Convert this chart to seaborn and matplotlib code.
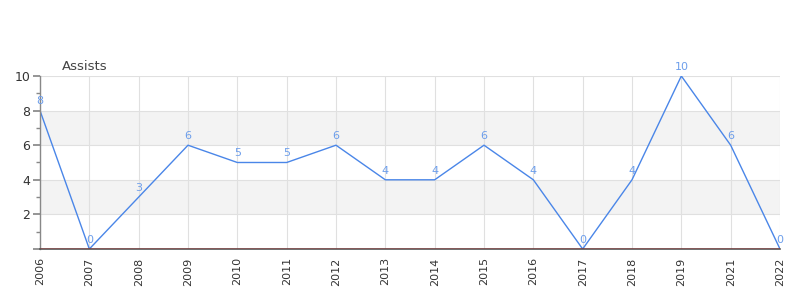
import matplotlib
matplotlib.use("Agg")
import matplotlib.pyplot as plt
import seaborn as sns
import pandas as pd
from matplotlib.ticker import FixedLocator

years = ["2006", "2007", "2008", "2009", "2010", "2011", "2012", "2013",
         "2014", "2015", "2016", "2017", "2018", "2019", "2021", "2022"]
assists = [8, 0, 3, 6, 5, 5, 6, 4, 4, 6, 4, 0, 4, 10, 6, 0]

df = pd.DataFrame({"year": years, "assists": assists})

sns.set_theme(style="white")
plt.rcParams['font.family'] = ['DejaVu Sans']

fig = plt.figure(figsize=(8, 3), dpi=100)
ax = fig.add_axes([0.05, 0.17, 0.925, 0.5767])

line_color = "#4a86e8"
sns.lineplot(data=df, x="year", y="assists", ax=ax, color=line_color, linewidth=1.0, sort=False)

# bands
for lo, hi in [(2, 4), (6, 8)]:
    ax.axhspan(lo, hi, color="#f3f3f3", zorder=0, lw=0)

ax.set_xlim(0, len(years) - 1)
ax.set_ylim(0, 10)
ax.yaxis.set_major_locator(FixedLocator([0, 2, 4, 6, 8, 10]))
ax.set_yticklabels(["", "2", "4", "6", "8", "10"])
ax.yaxis.set_minor_locator(FixedLocator([1, 3, 5, 7, 9]))
ax.grid(True, which="major", color="#e0e0e0", linewidth=0.8)
ax.set_axisbelow(True)

ax.tick_params(axis="y", which="major", left=True, length=5, color="#888888", labelsize=9, labelcolor="#333333", pad=2)
ax.tick_params(axis="y", which="minor", left=True, length=3, color="#888888")
ax.tick_params(axis="x", bottom=False, length=0, labelsize=8, labelcolor="#333333", labelrotation=90, pad=6)

for s in ["top", "right"]:
    ax.spines[s].set_visible(False)
ax.spines["left"].set_color("#888888")
ax.spines["left"].set_linewidth(1.0)
ax.spines["bottom"].set_color("#555555")
ax.spines["bottom"].set_linewidth(1.2)
ax.axhline(0, color="#dd0000", linewidth=1.0, zorder=3)

ax.set_xlabel("")
ax.set_ylabel("")

for i, v in enumerate(assists):
    ax.annotate(str(v), (i, v), xytext=(0, 3), textcoords="offset points",
                ha="center", va="bottom", fontsize=8, color="#6d9eeb", annotation_clip=False)

fig.text(62 / 800, 1 - 66 / 300, "Assists", fontsize=9.5, color="#444444", ha="left", va="center")

fig.savefig("out.png", dpi=100)
